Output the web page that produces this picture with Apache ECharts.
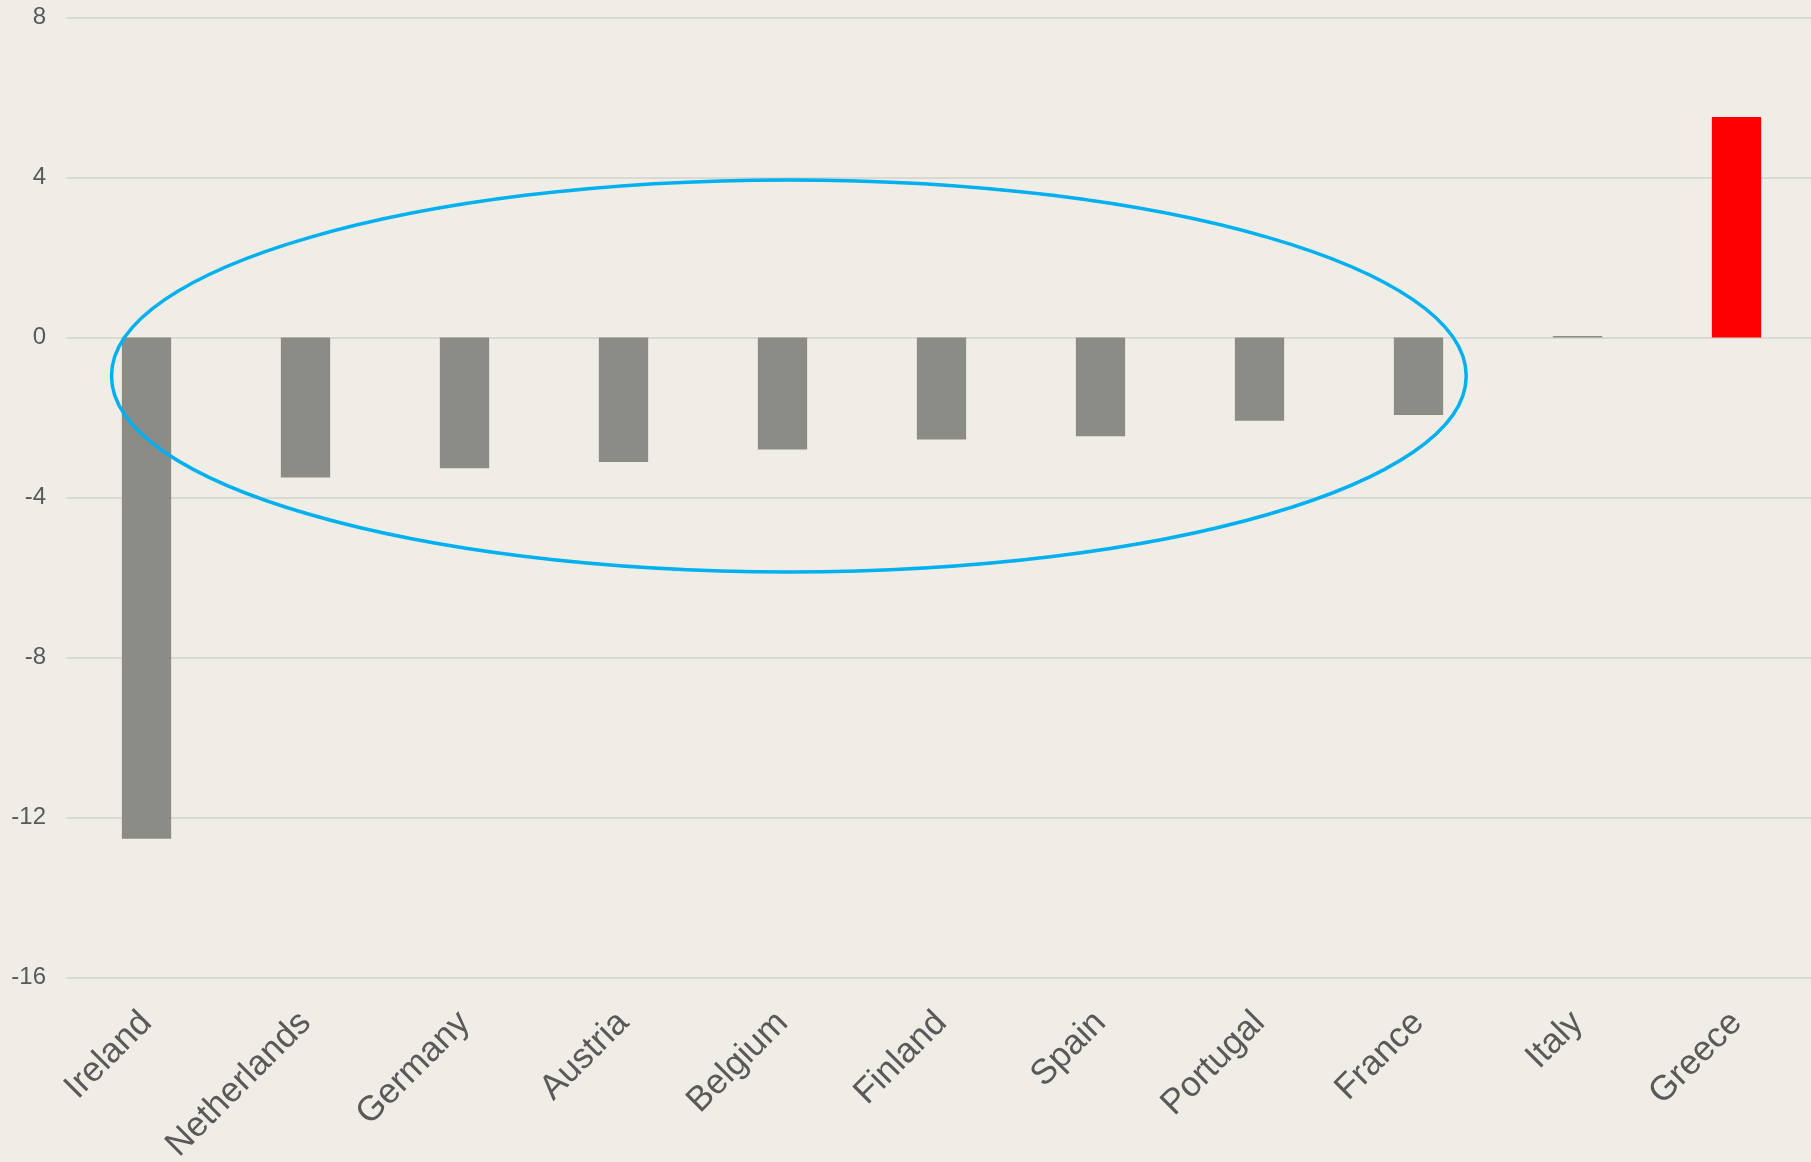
<!DOCTYPE html>
<html>
<head>
<meta charset="utf-8">
<script src="https://cdn.jsdelivr.net/npm/echarts@6/dist/echarts.min.js"></script>
<style>
html,body{margin:0;padding:0;background:#EFEDE5;overflow:hidden;}
#chart{width:1811px;height:1162px;}
</style>
</head>
<body>
<div id="chart"></div>
<script>
const categories = ['Ireland','Netherlands','Germany','Austria','Belgium','Finland','Spain','Portugal','France','Italy','Greece'];
const values = [-12.53, -3.50, -3.27, -3.11, -2.80, -2.55, -2.47, -2.08, -1.94, 0.04, 5.51];
const highlight = ['Greece'];
const yTicks = {min: -16, max: 8, interval: 4};
// annotation ellipse, in category-index / value units
const ellipseSpec = {cx: 4.04, cy: -0.96, rx: 4.26, ry: 4.9};

const chart = echarts.init(document.getElementById('chart'));
const font = '"Liberation Sans", "Noto Sans", sans-serif';
chart.setOption({
  backgroundColor: '#EFEDE5',
  animation: false,
  grid: {left: 67, width: 1749, top: 17.5, bottom: 184.5, containLabel: false, outerBoundsMode: 'none'},
  xAxis: {
    type: 'category',
    data: categories,
    axisLine: {show: false},
    axisTick: {show: false},
    axisLabel: {rotate: 45, color: '#595959', fontSize: 35, fontFamily: font, margin: 40, interval: 0}
  },
  yAxis: {
    type: 'value',
    min: yTicks.min, max: yTicks.max, interval: yTicks.interval,
    axisLine: {show: false},
    axisTick: {show: false},
    axisLabel: {color: '#595959', fontSize: 24, fontFamily: font, margin: 21},
    splitLine: {lineStyle: {color: '#D9D8D2', width: 2}}
  },
  series: [{
    type: 'bar',
    barWidth: '31%',
    data: values.map((v, i) => ({
      value: v,
      itemStyle: {color: highlight.includes(categories[i]) ? '#FF0000' : '#8C8C86'}
    }))
  }]
});

function drawEllipse() {
  const p0 = chart.convertToPixel({xAxisIndex: 0}, 0);
  const p1 = chart.convertToPixel({xAxisIndex: 0}, 1);
  const step = p1 - p0;
  const y0 = chart.convertToPixel({yAxisIndex: 0}, 0);
  const y1 = chart.convertToPixel({yAxisIndex: 0}, 1);
  const ystep = y0 - y1;
  const cx = p0 + ellipseSpec.cx * step;
  const cy = y0 - ellipseSpec.cy * ystep;
  chart.setOption({
    graphic: [{
      type: 'ellipse',
      shape: {cx: cx, cy: cy, rx: ellipseSpec.rx * step, ry: ellipseSpec.ry * ystep},
      style: {fill: 'none', stroke: '#00B0F0', lineWidth: 3.5},
      z: 100
    }]
  });
}
drawEllipse();
</script>
</body>
</html>
